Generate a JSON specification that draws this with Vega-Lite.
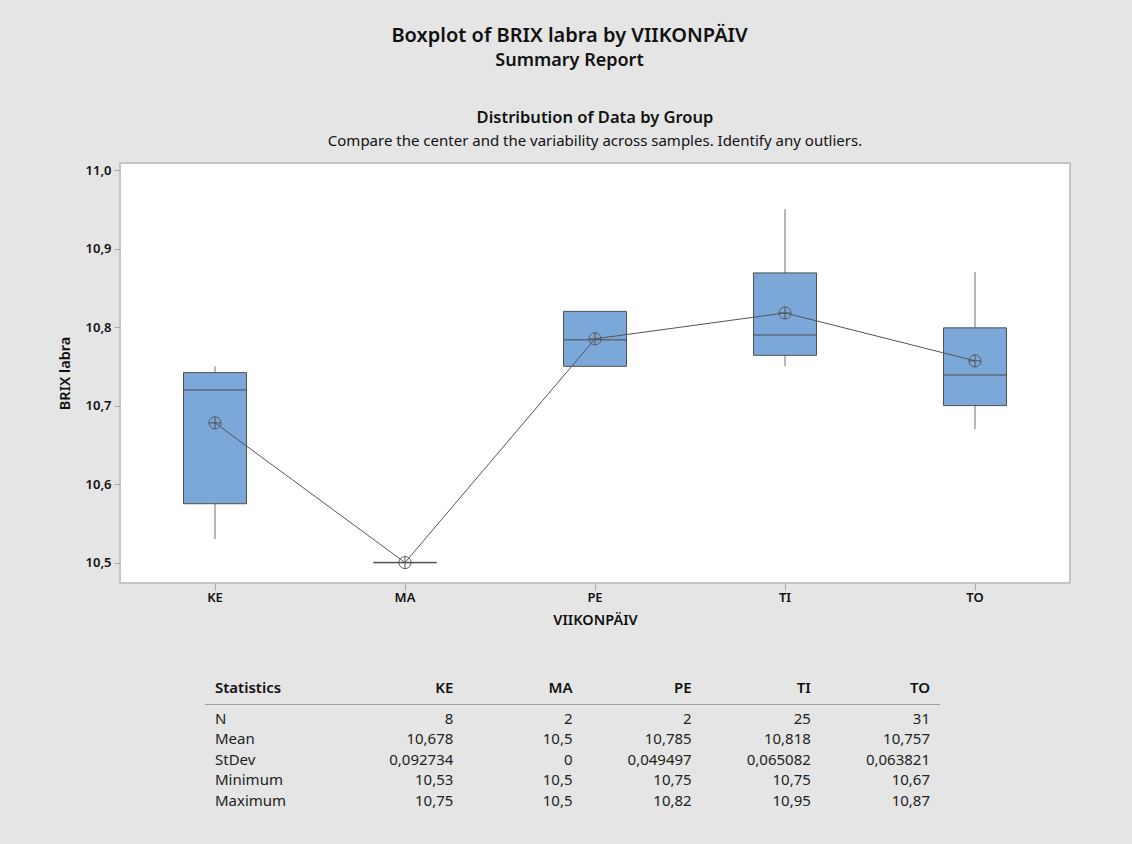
{
  "$schema": "https://vega.github.io/schema/vega-lite/v6.json",
  "background": "#e5e5e5",
  "padding": {"left": 56, "top": 25, "right": 62, "bottom": 37},
  "bounds": "flush",
  "spacing": 115,
  "title": {
    "text": "Boxplot of BRIX labra by VIIKONPÄIV",
    "subtitle": "Summary Report",
    "fontSize": 20,
    "fontWeight": 600,
    "color": "#111111",
    "subtitleFontSize": 18,
    "subtitleFontWeight": 600,
    "subtitleColor": "#111111",
    "subtitlePadding": 6,
    "anchor": "middle",
    "dx": 6,
    "offset": 39
  },
  "datasets": {
    "summary": [
      {"day": "KE", "min": 10.53, "q1": 10.575, "median": 10.72, "q3": 10.742, "max": 10.75, "mean": 10.678},
      {"day": "MA", "min": 10.5, "q1": 10.5, "median": 10.5, "q3": 10.5, "max": 10.5, "mean": 10.5},
      {"day": "PE", "min": 10.75, "q1": 10.75, "median": 10.784, "q3": 10.82, "max": 10.82, "mean": 10.785},
      {"day": "TI", "min": 10.75, "q1": 10.764, "median": 10.79, "q3": 10.869, "max": 10.95, "mean": 10.818},
      {"day": "TO", "min": 10.67, "q1": 10.70, "median": 10.739, "q3": 10.799, "max": 10.87, "mean": 10.757}
    ],
    "table": [
      {"row": "Statistics", "col": "Statistics", "label": "Statistics"},
      {"row": "Statistics", "col": "KE", "label": "KE"},
      {"row": "Statistics", "col": "MA", "label": "MA"},
      {"row": "Statistics", "col": "PE", "label": "PE"},
      {"row": "Statistics", "col": "TI", "label": "TI"},
      {"row": "Statistics", "col": "TO", "label": "TO"},
      {"row": "N", "col": "Statistics", "label": "N"},
      {"row": "N", "col": "KE", "label": "8"},
      {"row": "N", "col": "MA", "label": "2"},
      {"row": "N", "col": "PE", "label": "2"},
      {"row": "N", "col": "TI", "label": "25"},
      {"row": "N", "col": "TO", "label": "31"},
      {"row": "Mean", "col": "Statistics", "label": "Mean"},
      {"row": "Mean", "col": "KE", "label": "10,678"},
      {"row": "Mean", "col": "MA", "label": "10,5"},
      {"row": "Mean", "col": "PE", "label": "10,785"},
      {"row": "Mean", "col": "TI", "label": "10,818"},
      {"row": "Mean", "col": "TO", "label": "10,757"},
      {"row": "StDev", "col": "Statistics", "label": "StDev"},
      {"row": "StDev", "col": "KE", "label": "0,092734"},
      {"row": "StDev", "col": "MA", "label": "0"},
      {"row": "StDev", "col": "PE", "label": "0,049497"},
      {"row": "StDev", "col": "TI", "label": "0,065082"},
      {"row": "StDev", "col": "TO", "label": "0,063821"},
      {"row": "Minimum", "col": "Statistics", "label": "Minimum"},
      {"row": "Minimum", "col": "KE", "label": "10,53"},
      {"row": "Minimum", "col": "MA", "label": "10,5"},
      {"row": "Minimum", "col": "PE", "label": "10,75"},
      {"row": "Minimum", "col": "TI", "label": "10,75"},
      {"row": "Minimum", "col": "TO", "label": "10,67"},
      {"row": "Maximum", "col": "Statistics", "label": "Maximum"},
      {"row": "Maximum", "col": "KE", "label": "10,75"},
      {"row": "Maximum", "col": "MA", "label": "10,5"},
      {"row": "Maximum", "col": "PE", "label": "10,82"},
      {"row": "Maximum", "col": "TI", "label": "10,95"},
      {"row": "Maximum", "col": "TO", "label": "10,87"}
    ]
  },
  "vconcat": [
    {
      "width": 950,
      "height": 420,
      "title": {
        "text": "Distribution of Data by Group",
        "subtitle": "Compare the center and the variability across samples. Identify any outliers.",
        "fontSize": 16.5,
        "fontWeight": 600,
        "color": "#111111",
        "subtitleFontSize": 15,
        "subtitleColor": "#111111",
        "subtitlePadding": 8,
        "anchor": "middle",
        "frame": "group",
        "offset": 14
      },
      "data": {"name": "summary"},
      "encoding": {
        "x": {
          "field": "day",
          "type": "nominal",
          "sort": ["KE", "MA", "PE", "TI", "TO"],
          "scale": {"paddingInner": 0, "paddingOuter": 0},
          "axis": {"title": "VIIKONPÄIV", "labelAngle": 0, "tickSize": 7, "labelPadding": 1, "titlePadding": 9}
        }
      },
      "layer": [
        {
          "mark": {"type": "rule", "color": "#a0a0a0", "strokeWidth": 1.5},
          "encoding": {
            "y": {
              "field": "min",
              "type": "quantitative",
              "scale": {"domain": [10.474, 11.009], "nice": false, "zero": false},
              "axis": {
                "title": "BRIX labra",
                "values": [10.5, 10.6, 10.7, 10.8, 10.9, 11.0],
                "labelExpr": "replace(format(datum.value, '.1f'), '.', ',')",
                "tickSize": 6,
                "labelPadding": 3,
                "titlePadding": 13
              }
            },
            "y2": {"field": "max"}
          }
        },
        {
          "mark": {"type": "bar", "size": 63, "fill": "#7ba7d9", "stroke": "#505050", "strokeWidth": 1},
          "encoding": {
            "y": {"field": "q1", "type": "quantitative"},
            "y2": {"field": "q3"}
          }
        },
        {
          "mark": {"type": "tick", "size": 63, "thickness": 1.5, "color": "#505050", "orient": "horizontal"},
          "encoding": {
            "y": {"field": "median", "type": "quantitative"}
          }
        },
        {
          "mark": {"type": "line", "color": "#555555", "strokeWidth": 1},
          "encoding": {
            "y": {"field": "mean", "type": "quantitative"}
          }
        },
        {
          "mark": {
            "type": "point",
            "shape": "M-1,0A1,1,0,1,1,1,0A1,1,0,1,1,-1,0ZM-1,0L1,0M0,-1L0,1",
            "filled": false,
            "size": 144,
            "stroke": "#555555",
            "strokeWidth": 1,
            "opacity": 1
          },
          "encoding": {
            "y": {"field": "mean", "type": "quantitative"}
          }
        }
      ]
    },
    {
      "width": 950,
      "height": 102.5,
      "view": {"stroke": null, "fill": null},
      "data": {"name": "table"},
      "encoding": {
        "x": {
          "field": "col",
          "type": "nominal",
          "scale": {"type": "point", "domain": ["Statistics", "gap", "KE", "MA", "PE", "TI", "TO"], "range": [95, 810], "padding": 0},
          "axis": null
        },
        "y": {
          "field": "row",
          "type": "nominal",
          "scale": {"type": "point", "domain": ["Statistics", "N", "Mean", "StDev", "Minimum", "Maximum"], "padding": 0},
          "axis": null
        }
      },
      "layer": [
        {
          "transform": [{"filter": "datum.row === 'Statistics' && datum.col === 'Statistics'"}],
          "mark": {"type": "text", "align": "left", "baseline": "middle", "fontSize": 15, "fontWeight": 600, "dy": -10, "color": "#111111"},
          "encoding": {"text": {"field": "label"}}
        },
        {
          "transform": [{"filter": "datum.row === 'Statistics' && datum.col !== 'Statistics'"}],
          "mark": {"type": "text", "align": "right", "baseline": "middle", "fontSize": 15, "fontWeight": 600, "dy": -10, "color": "#111111"},
          "encoding": {"text": {"field": "label"}}
        },
        {
          "transform": [{"filter": "datum.row !== 'Statistics' && datum.col === 'Statistics'"}],
          "mark": {"type": "text", "align": "left", "baseline": "middle", "fontSize": 15, "color": "#222222"},
          "encoding": {"text": {"field": "label"}}
        },
        {
          "transform": [{"filter": "datum.row !== 'Statistics' && datum.col !== 'Statistics'"}],
          "mark": {"type": "text", "align": "right", "baseline": "middle", "fontSize": 15, "color": "#222222"},
          "encoding": {"text": {"field": "label"}}
        },
        {
          "transform": [{"filter": "datum.row === 'Statistics' && datum.col === 'Statistics'"}],
          "mark": {"type": "rule", "color": "#a0a0a0", "strokeWidth": 1, "yOffset": 6.5, "xOffset": -10, "x2Offset": 10},
          "encoding": {
            "x2": {"datum": "TO"}
          }
        }
      ]
    }
  ],
  "config": {
    "font": "Noto Sans",
    "view": {"fill": "#ffffff", "stroke": "#c4c4c4", "strokeWidth": 2},
    "axis": {
      "domain": false,
      "grid": false,
      "tickColor": "#a8a8a8",
      "labelColor": "#111111",
      "labelFontSize": 13,
      "labelFontWeight": 600,
      "titleColor": "#111111",
      "titleFontSize": 14.5,
      "titleFontWeight": 600
    }
  }
}
